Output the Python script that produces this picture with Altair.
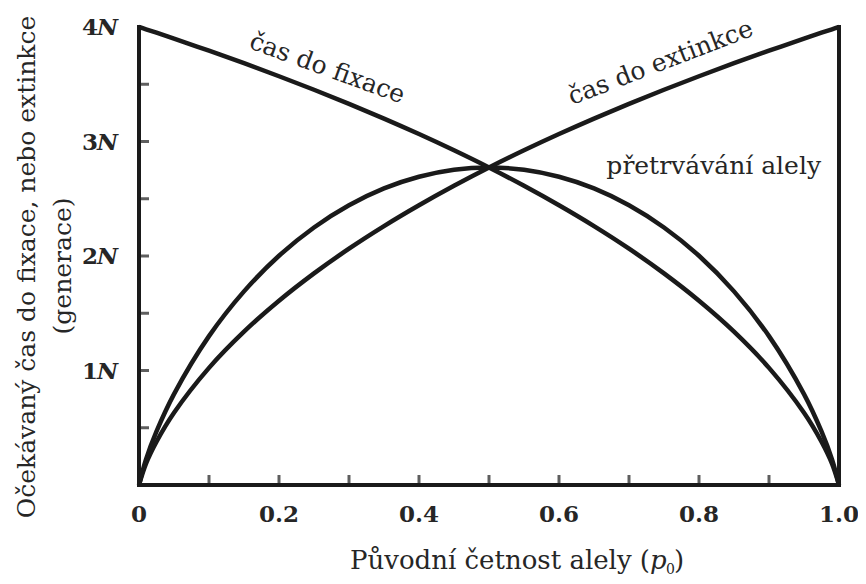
import altair as alt
import pandas as pd

# Initial allele frequency p0 (x) and expected times in units of N (y)
p_vals = [0.0, 0.01, 0.025, 0.05, 0.10, 0.15, 0.20, 0.25, 0.30, 0.35, 0.40, 0.45, 0.50,
          0.55, 0.60, 0.65, 0.70, 0.75, 0.80, 0.85, 0.90, 0.95, 0.975, 0.99, 1.0]
t_fixace = [4.000, 3.980, 3.950, 3.898, 3.793, 3.684, 3.570, 3.452, 3.329, 3.200, 3.065, 2.923, 2.773,
            2.613, 2.443, 2.261, 2.064, 1.848, 1.609, 1.339, 1.023, 0.631, 0.378, 0.186, 0.000]
t_extinkce = [0.000, 0.186, 0.378, 0.631, 1.023, 1.339, 1.609, 1.848, 2.064, 2.261, 2.443, 2.613, 2.773,
              2.923, 3.065, 3.200, 3.329, 3.452, 3.570, 3.684, 3.793, 3.898, 3.950, 3.980, 4.000]
t_pretrvavani = [0.000, 0.224, 0.468, 0.794, 1.300, 1.691, 2.002, 2.249, 2.443, 2.590, 2.692, 2.753, 2.773,
                 2.753, 2.692, 2.590, 2.443, 2.249, 2.002, 1.691, 1.300, 0.794, 0.468, 0.224, 0.000]

x_tick_values = [0.1, 0.2, 0.3, 0.4, 0.5, 0.6, 0.7, 0.8, 0.9]
x_label_values = [0.0, 0.2, 0.4, 0.6, 0.8, 1.0]
x_label_texts = ["0", "0.2", "0.4", "0.6", "0.8", "1.0"]
y_tick_values = [0.5, 1.0, 1.5, 2.0, 2.5, 3.0, 3.5]
y_label_values = [1, 2, 3, 4]
y_label_texts = ["1", "2", "3", "4"]

series_names = ["čas do fixace", "čas do extinkce", "přetrvávání alely"]

INK = "#1a1a1a"
TXT = "#262626"
SERIF = "DejaVu Serif"

rows = []
for name, vals in zip(series_names, [t_fixace, t_extinkce, t_pretrvavani]):
    for pv, tv in zip(p_vals, vals):
        rows.append({"p": pv, "t": tv, "serie": name})
df = pd.DataFrame(rows)

xscale = alt.Scale(domain=[0, 1], nice=False, zero=False)
yscale = alt.Scale(domain=[0, 4], nice=False, zero=False)

lines = alt.Chart(df).mark_line(strokeWidth=4.5, interpolate="catmull-rom", color=INK).encode(
    x=alt.X("p:Q", scale=xscale, axis=None),
    y=alt.Y("t:Q", scale=yscale, axis=None),
    detail="serie:N",
)

# frame lines: left axis, bottom axis, right edge at p0 = 1
frame_df = pd.DataFrame({
    "x": [0.0, 0.0, 1.0], "x2": [0.0, 1.0, 1.0],
    "y": [0.0, 0.0, 0.0], "y2": [4.0, 0.0, 4.0],
})
frame = alt.Chart(frame_df).mark_rule(strokeWidth=4, color=INK, strokeCap="square").encode(
    x=alt.X("x:Q", axis=None), x2="x2:Q", y=alt.Y("y:Q", axis=None), y2="y2:Q"
)

xticks = alt.Chart(pd.DataFrame({"v": x_tick_values, "z": [0.0] * len(x_tick_values)})).mark_tick(
    orient="vertical", size=10, thickness=3, yOffset=-5, color=INK
).encode(x=alt.X("v:Q", axis=None), y=alt.Y("z:Q", axis=None))

yticks = alt.Chart(pd.DataFrame({"v": y_tick_values, "z": [0.0] * len(y_tick_values)})).mark_tick(
    orient="horizontal", size=10, thickness=3, xOffset=5, color=INK
).encode(x=alt.X("z:Q", axis=None), y=alt.Y("v:Q", axis=None))

xlabels = alt.Chart(pd.DataFrame({"v": x_label_values, "z": [0.0] * 6, "s": x_label_texts})).mark_text(
    font=SERIF, fontSize=23, fontWeight="bold", color=TXT, align="center", baseline="alphabetic", dy=37
).encode(x=alt.X("v:Q", axis=None), y=alt.Y("z:Q", axis=None), text="s:N")

ydf = pd.DataFrame({"v": y_label_values, "z": [0.0] * 4, "s": y_label_texts, "n": ["N"] * 4})
ylabel_num = alt.Chart(ydf).mark_text(
    font=SERIF, fontSize=23, fontWeight="bold", color=TXT, align="right", baseline="alphabetic",
    dx=-41, dy=8
).encode(x=alt.X("z:Q", axis=None), y=alt.Y("v:Q", axis=None), text="s:N")
ylabel_n = alt.Chart(ydf).mark_text(
    font=SERIF, fontSize=23, fontWeight="bold", fontStyle="italic", color=TXT, align="right",
    baseline="alphabetic", dx=-21, dy=8
).encode(x=alt.X("z:Q", axis=None), y=alt.Y("v:Q", axis=None), text="n:N")

def note(text, px, py, angle):
    return alt.Chart(pd.DataFrame({"x": [px], "y": [py], "s": [text]})).mark_text(
        font=SERIF, fontSize=25, color=TXT, align="center", baseline="middle", angle=angle
    ).encode(x=alt.X("x:Q", axis=None), y=alt.Y("y:Q", axis=None), text="s:N")

note_fix = note(series_names[0], 0.269, 3.64, 20)
note_ext = note(series_names[1], 0.745, 3.69, 339)
note_per = note(series_names[2], 0.821, 2.79, 0)

def free_text(text, px, py, size, angle=0, align="center", style="normal"):
    return alt.Chart(pd.DataFrame({"s": [text]})).mark_text(
        font=SERIF, fontSize=size, color=TXT, align=align, baseline="alphabetic", angle=angle,
        fontStyle=style
    ).encode(x=alt.value(px), y=alt.value(py), text="s:N")

ytitle1 = free_text("Očekávaný čas do fixace, nebo extinkce", -104, 240, 25, angle=270)
ytitle2 = free_text("(generace)", -68, 239, 25, angle=270)
xtitle1 = free_text("Původní četnost alely (", 511, 542, 26, align="right")
xtitle_p = free_text("p", 511, 542, 26, align="left", style="italic")
xtitle_0 = free_text("0", 527, 547, 14, align="left")
xtitle_end = free_text(")", 535, 542, 26, align="left")

chart = alt.layer(
    lines, frame, xticks, yticks, xlabels, ylabel_num, ylabel_n,
    note_fix, note_ext, note_per, ytitle1, ytitle2, xtitle1, xtitle_p, xtitle_0, xtitle_end
).properties(
    width=700, height=458,
    padding={"left": 131, "top": 19, "right": 19, "bottom": 91},
    autosize=alt.AutoSizeParams(type="none"),
    background="white",
).configure_view(stroke=None)

chart.save("out.html", embed_options={"renderer": "svg", "actions": False})
